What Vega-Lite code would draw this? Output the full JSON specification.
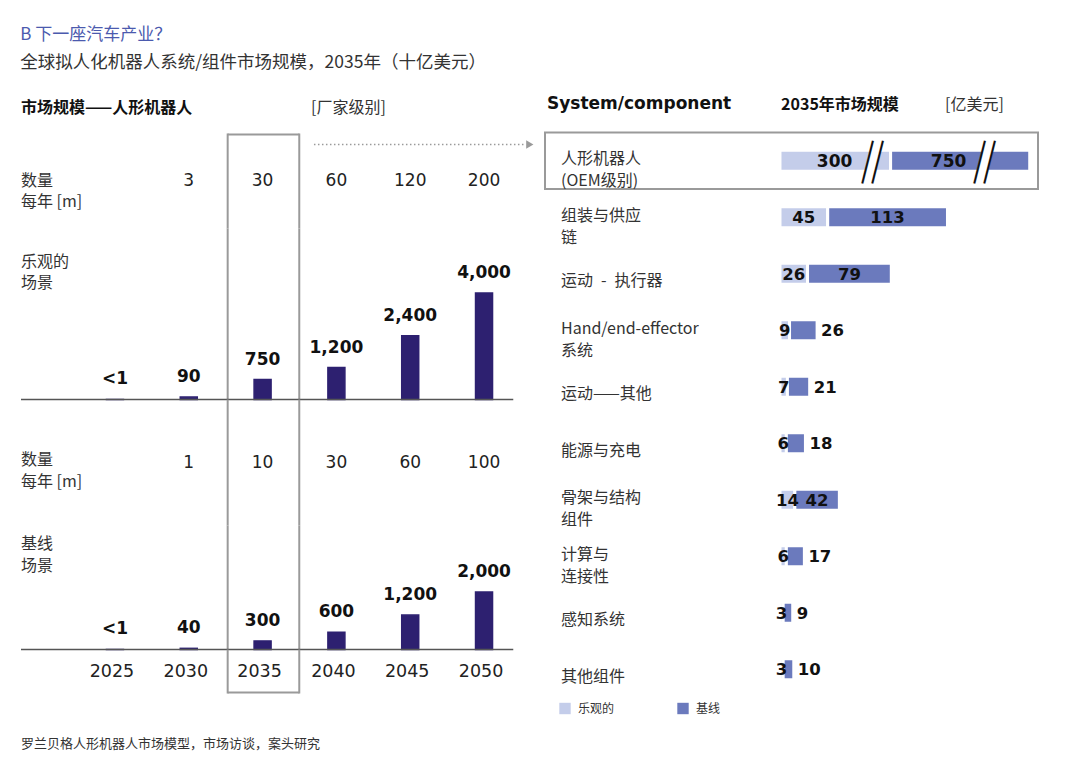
{
  "$schema": "https://vega.github.io/schema/vega-lite/v6.json",
  "background": "white",
  "padding": {"left": 20, "top": 25.5, "right": 20, "bottom": 10},
  "title": {
    "text": "B 下一座汽车产业？",
    "subtitle": "全球拟人化机器人系统/组件市场规模，2035年（十亿美元）",
    "anchor": "start",
    "font": "Noto Sans CJK SC",
    "fontSize": 17,
    "fontWeight": "normal",
    "color": "#4b5aae",
    "subtitleFont": "Noto Sans CJK SC",
    "subtitleFontSize": 17.5,
    "subtitleColor": "#333333",
    "subtitlePadding": 10,
    "offset": 19.5
  },
  "datasets": {
    "market": [
      {"year": 2025, "scenario": "乐观的", "units": null, "market": 0.5},
      {"year": 2030, "scenario": "乐观的", "units": 3, "market": 90},
      {"year": 2035, "scenario": "乐观的", "units": 30, "market": 750},
      {"year": 2040, "scenario": "乐观的", "units": 60, "market": 1200},
      {"year": 2045, "scenario": "乐观的", "units": 120, "market": 2400},
      {"year": 2050, "scenario": "乐观的", "units": 200, "market": 4000},
      {"year": 2025, "scenario": "基线", "units": null, "market": 0.5},
      {"year": 2030, "scenario": "基线", "units": 1, "market": 40},
      {"year": 2035, "scenario": "基线", "units": 10, "market": 300},
      {"year": 2040, "scenario": "基线", "units": 30, "market": 600},
      {"year": 2045, "scenario": "基线", "units": 60, "market": 1200},
      {"year": 2050, "scenario": "基线", "units": 100, "market": 2000}
    ],
    "components": [
      {"component": "人形机器人\n(OEM级别)", "rank": 1, "scenario": "乐观的", "value": 300},
      {"component": "人形机器人\n(OEM级别)", "rank": 1, "scenario": "基线", "value": 750},
      {"component": "组装与供应\n链", "rank": 2, "scenario": "乐观的", "value": 45},
      {"component": "组装与供应\n链", "rank": 2, "scenario": "基线", "value": 113},
      {"component": "运动\u2002-\u2002执行器", "rank": 3, "scenario": "乐观的", "value": 26},
      {"component": "运动\u2002-\u2002执行器", "rank": 3, "scenario": "基线", "value": 79},
      {"component": "Hand/end-effector\n系统", "rank": 4, "scenario": "乐观的", "value": 9},
      {"component": "Hand/end-effector\n系统", "rank": 4, "scenario": "基线", "value": 26},
      {"component": "运动——其他", "rank": 5, "scenario": "乐观的", "value": 7},
      {"component": "运动——其他", "rank": 5, "scenario": "基线", "value": 21},
      {"component": "能源与充电", "rank": 6, "scenario": "乐观的", "value": 6},
      {"component": "能源与充电", "rank": 6, "scenario": "基线", "value": 18},
      {"component": "骨架与结构\n组件", "rank": 7, "scenario": "乐观的", "value": 14},
      {"component": "骨架与结构\n组件", "rank": 7, "scenario": "基线", "value": 42},
      {"component": "计算与\n连接性", "rank": 8, "scenario": "乐观的", "value": 6},
      {"component": "计算与\n连接性", "rank": 8, "scenario": "基线", "value": 17},
      {"component": "感知系统", "rank": 9, "scenario": "乐观的", "value": 3},
      {"component": "感知系统", "rank": 9, "scenario": "基线", "value": 9},
      {"component": "其他组件", "rank": 10, "scenario": "乐观的", "value": 3},
      {"component": "其他组件", "rank": 10, "scenario": "基线", "value": 10}
    ]
  },
  "spacing": 19.5,
  "resolve": {"scale": {"x": "independent", "y": "independent", "color": "independent"}, "legend": {"color": "independent"}},
  "vconcat": [
    {
      "spacing": 8,
      "resolve": {"scale": {"x": "independent", "y": "independent", "color": "independent"}, "legend": {"color": "independent"}},
      "hconcat": [
        {
          "spacing": 17,
          "resolve": {"scale": {"x": "independent", "y": "independent"}},
          "vconcat": [
            {
              "width": 515,
              "height": 24,
              "data": {"values": [{}]},
              "layer": [
                {
                  "mark": {"type": "text", "align": "left", "baseline": "middle", "fontSize": 16, "fontWeight": "bold", "color": "#111111", "dy": 4},
                  "encoding": {
                    "x": {"datum": 2018.636, "type": "quantitative", "scale": {"domain": [2018.636, 2053.52], "nice": false, "zero": false, "padding": 0}, "axis": null},
                    "text": {"value": "市场规模——人形机器人"}
                  }
                },
                {
                  "mark": {"type": "text", "align": "left", "baseline": "middle", "fontSize": 16, "color": "#333333", "dy": 4},
                  "encoding": {
                    "x": {"datum": 2038.28, "type": "quantitative", "scale": {"domain": [2018.636, 2053.52], "nice": false, "zero": false, "padding": 0}, "axis": null},
                    "text": {"value": "[厂家级别]"}
                  }
                }
              ]
            },
            {
              "bounds": "flush",
              "spacing": 0,
              "resolve": {"scale": {"x": "independent", "y": "independent"}},
              "vconcat": [
                {
                  "width": 515,
                  "height": 95,
                  "data": {"name": "market"},
                  "transform": [{"filter": "datum.scenario === '乐观的'"}],
                  "layer": [
                    {
                      "transform": [{"filter": "datum.year === 2035"}],
                      "mark": {"type": "rule", "color": "#9a9a9a", "strokeWidth": 2},
                      "encoding": {"x": {"datum": 2032.635, "type": "quantitative", "scale": {"domain": [2018.636, 2053.52], "nice": false, "zero": false, "padding": 0}, "axis": null}}
                    },
                    {
                      "transform": [{"filter": "datum.year === 2035"}],
                      "mark": {"type": "rule", "color": "#9a9a9a", "strokeWidth": 2},
                      "encoding": {"x": {"datum": 2037.485, "type": "quantitative", "scale": {"domain": [2018.636, 2053.52], "nice": false, "zero": false, "padding": 0}, "axis": null}}
                    },
                    {
                      "transform": [{"filter": "datum.year === 2035"}],
                      "mark": {"type": "rule", "color": "#9a9a9a", "strokeWidth": 2},
                      "encoding": {
                        "x": {"datum": 2032.635, "type": "quantitative", "scale": {"domain": [2018.636, 2053.52], "nice": false, "zero": false, "padding": 0}, "axis": null},
                        "x2": {"datum": 2037.485},
                        "y": {"value": 1}
                      }
                    },
                    {
                      "transform": [{"filter": "datum.year === 2035"}],
                      "mark": {"type": "rule", "color": "#9a9a9a", "strokeWidth": 1.5, "strokeDash": [1.5, 2.5]},
                      "encoding": {
                        "x": {"datum": 2038.48, "type": "quantitative", "scale": {"domain": [2018.636, 2053.52], "nice": false, "zero": false, "padding": 0}, "axis": null},
                        "x2": {"datum": 2052.77},
                        "y": {"value": 11}
                      }
                    },
                    {
                      "transform": [{"filter": "datum.year === 2035"}],
                      "mark": {"type": "point", "shape": "triangle-right", "filled": true, "color": "#9a9a9a", "size": 70, "opacity": 1},
                      "encoding": {
                        "x": {"datum": 2053.1, "type": "quantitative", "scale": {"domain": [2018.636, 2053.52], "nice": false, "zero": false, "padding": 0}, "axis": null},
                        "y": {"value": 11}
                      }
                    },
                    {
                      "transform": [{"filter": "isValid(datum.units)"}],
                      "mark": {"type": "text", "font": "DejaVu Sans", "fontSize": 17, "color": "#222222", "baseline": "middle"},
                      "encoding": {
                        "x": {"field": "year", "type": "quantitative", "scale": {"domain": [2018.636, 2053.52], "nice": false, "zero": false, "padding": 0}, "axis": null},
                        "text": {"field": "units", "type": "quantitative"}
                      }
                    },
                    {
                      "transform": [{"filter": "datum.year === 2035"}],
                      "mark": {"type": "text", "align": "left", "baseline": "middle", "fontSize": 16, "lineHeight": 21, "color": "#333333", "dy": -0.4, "lineBreak": "\n"},
                      "encoding": {
                        "x": {"datum": 2018.636, "type": "quantitative", "scale": {"domain": [2018.636, 2053.52], "nice": false, "zero": false, "padding": 0}, "axis": null},
                        "text": {"value": "数量\n每年 [m]"}
                      }
                    }
                  ]
                },
                {
                  "width": 515,
                  "height": 171,
                  "data": {"name": "market"},
                  "transform": [{"filter": "datum.scenario === '乐观的'"}],
                  "layer": [
                    {
                      "transform": [{"filter": "datum.year === 2035"}],
                      "mark": {"type": "rule", "color": "#9a9a9a", "strokeWidth": 2},
                      "encoding": {"x": {"datum": 2032.635, "type": "quantitative", "scale": {"domain": [2018.636, 2053.52], "nice": false, "zero": false, "padding": 0}, "axis": null}}
                    },
                    {
                      "transform": [{"filter": "datum.year === 2035"}],
                      "mark": {"type": "rule", "color": "#9a9a9a", "strokeWidth": 2},
                      "encoding": {"x": {"datum": 2037.485, "type": "quantitative", "scale": {"domain": [2018.636, 2053.52], "nice": false, "zero": false, "padding": 0}, "axis": null}}
                    },
                    {
                      "mark": {"type": "bar", "color": "#2d2070", "stroke": "#2d2070", "strokeWidth": 1.5, "size": 17},
                      "encoding": {
                        "x": {"field": "year", "type": "quantitative", "scale": {"domain": [2018.636, 2053.52], "nice": false, "zero": false, "padding": 0}, "axis": null},
                        "y": {"field": "market", "type": "quantitative", "scale": {"domain": [0, 6429], "nice": false}, "axis": null}
                      }
                    },
                    {
                      "transform": [{"filter": "datum.year === 2035"}],
                      "mark": {"type": "rule", "color": "#555555", "strokeWidth": 1.5},
                      "encoding": {
                        "x": {"datum": 2018.636, "type": "quantitative", "scale": {"domain": [2018.636, 2053.52], "nice": false, "zero": false, "padding": 0}, "axis": null},
                        "x2": {"datum": 2051.98},
                        "y": {"datum": 0, "type": "quantitative", "scale": {"domain": [0, 6429], "nice": false}, "axis": null}
                      }
                    },
                    {
                      "mark": {"type": "text", "font": "DejaVu Sans", "fontWeight": "bold", "fontSize": 17, "color": "#111111", "baseline": "middle", "dy": -20},
                      "encoding": {
                        "x": {"field": "year", "type": "quantitative", "scale": {"domain": [2018.636, 2053.52], "nice": false, "zero": false, "padding": 0}, "axis": null},
                        "y": {"field": "market", "type": "quantitative", "scale": {"domain": [0, 6429], "nice": false}, "axis": null},
                        "text": {"condition": {"test": "datum.market < 1", "value": "<1"}, "field": "market", "type": "quantitative", "format": ","}
                      }
                    },
                    {
                      "transform": [{"filter": "datum.year === 2035"}],
                      "mark": {"type": "text", "align": "left", "baseline": "middle", "fontSize": 16, "lineHeight": 21, "color": "#333333", "lineBreak": "\n"},
                      "encoding": {
                        "x": {"datum": 2018.636, "type": "quantitative", "scale": {"domain": [2018.636, 2053.52], "nice": false, "zero": false, "padding": 0}, "axis": null},
                        "y": {"datum": 5158, "type": "quantitative", "scale": {"domain": [0, 6429], "nice": false}, "axis": null},
                        "text": {"value": "乐观的\n场景"}
                      }
                    }
                  ]
                },
                {
                  "width": 515,
                  "height": 126,
                  "data": {"name": "market"},
                  "transform": [{"filter": "datum.scenario === '基线'"}],
                  "layer": [
                    {
                      "transform": [{"filter": "datum.year === 2035"}],
                      "mark": {"type": "rule", "color": "#9a9a9a", "strokeWidth": 2},
                      "encoding": {"x": {"datum": 2032.635, "type": "quantitative", "scale": {"domain": [2018.636, 2053.52], "nice": false, "zero": false, "padding": 0}, "axis": null}}
                    },
                    {
                      "transform": [{"filter": "datum.year === 2035"}],
                      "mark": {"type": "rule", "color": "#9a9a9a", "strokeWidth": 2},
                      "encoding": {"x": {"datum": 2037.485, "type": "quantitative", "scale": {"domain": [2018.636, 2053.52], "nice": false, "zero": false, "padding": 0}, "axis": null}}
                    },
                    {
                      "transform": [{"filter": "isValid(datum.units)"}],
                      "mark": {"type": "text", "font": "DejaVu Sans", "fontSize": 17, "color": "#222222", "baseline": "middle"},
                      "encoding": {
                        "x": {"field": "year", "type": "quantitative", "scale": {"domain": [2018.636, 2053.52], "nice": false, "zero": false, "padding": 0}, "axis": null},
                        "text": {"field": "units", "type": "quantitative"}
                      }
                    },
                    {
                      "transform": [{"filter": "datum.year === 2035"}],
                      "mark": {"type": "text", "align": "left", "baseline": "middle", "fontSize": 16, "lineHeight": 22, "color": "#333333", "dy": -2.4, "lineBreak": "\n"},
                      "encoding": {
                        "x": {"datum": 2018.636, "type": "quantitative", "scale": {"domain": [2018.636, 2053.52], "nice": false, "zero": false, "padding": 0}, "axis": null},
                        "text": {"value": "数量\n每年 [m]"}
                      }
                    }
                  ]
                },
                {
                  "width": 515,
                  "height": 124,
                  "data": {"name": "market"},
                  "transform": [{"filter": "datum.scenario === '基线'"}],
                  "layer": [
                    {
                      "transform": [{"filter": "datum.year === 2035"}],
                      "mark": {"type": "rule", "color": "#9a9a9a", "strokeWidth": 2},
                      "encoding": {"x": {"datum": 2032.635, "type": "quantitative", "scale": {"domain": [2018.636, 2053.52], "nice": false, "zero": false, "padding": 0}, "axis": null}}
                    },
                    {
                      "transform": [{"filter": "datum.year === 2035"}],
                      "mark": {"type": "rule", "color": "#9a9a9a", "strokeWidth": 2},
                      "encoding": {"x": {"datum": 2037.485, "type": "quantitative", "scale": {"domain": [2018.636, 2053.52], "nice": false, "zero": false, "padding": 0}, "axis": null}}
                    },
                    {
                      "mark": {"type": "bar", "color": "#2d2070", "stroke": "#2d2070", "strokeWidth": 1.5, "size": 17},
                      "encoding": {
                        "x": {"field": "year", "type": "quantitative", "scale": {"domain": [2018.636, 2053.52], "nice": false, "zero": false, "padding": 0}, "axis": null},
                        "y": {"field": "market", "type": "quantitative", "scale": {"domain": [0, 4321], "nice": false}, "axis": null}
                      }
                    },
                    {
                      "transform": [{"filter": "datum.year === 2035"}],
                      "mark": {"type": "rule", "color": "#555555", "strokeWidth": 1.5},
                      "encoding": {
                        "x": {"datum": 2018.636, "type": "quantitative", "scale": {"domain": [2018.636, 2053.52], "nice": false, "zero": false, "padding": 0}, "axis": null},
                        "x2": {"datum": 2051.98},
                        "y": {"datum": 0, "type": "quantitative", "scale": {"domain": [0, 4321], "nice": false}, "axis": null}
                      }
                    },
                    {
                      "mark": {"type": "text", "font": "DejaVu Sans", "fontWeight": "bold", "fontSize": 17, "color": "#111111", "baseline": "middle", "dy": -20},
                      "encoding": {
                        "x": {"field": "year", "type": "quantitative", "scale": {"domain": [2018.636, 2053.52], "nice": false, "zero": false, "padding": 0}, "axis": null},
                        "y": {"field": "market", "type": "quantitative", "scale": {"domain": [0, 4321], "nice": false}, "axis": null},
                        "text": {"condition": {"test": "datum.market < 1", "value": "<1"}, "field": "market", "type": "quantitative", "format": ","}
                      }
                    },
                    {
                      "transform": [{"filter": "datum.year === 2035"}],
                      "mark": {"type": "text", "align": "left", "baseline": "middle", "fontSize": 16, "lineHeight": 22, "color": "#333333", "lineBreak": "\n"},
                      "encoding": {
                        "x": {"datum": 2018.636, "type": "quantitative", "scale": {"domain": [2018.636, 2053.52], "nice": false, "zero": false, "padding": 0}, "axis": null},
                        "y": {"datum": 3687, "type": "quantitative", "scale": {"domain": [0, 4321], "nice": false}, "axis": null},
                        "text": {"value": "基线\n场景"}
                      }
                    }
                  ]
                },
                {
                  "width": 515,
                  "height": 44,
                  "data": {"name": "market"},
                  "transform": [{"filter": "datum.scenario === '基线'"}],
                  "layer": [
                    {
                      "transform": [{"filter": "datum.year === 2035"}],
                      "mark": {"type": "rule", "color": "#9a9a9a", "strokeWidth": 2},
                      "encoding": {"x": {"datum": 2032.635, "type": "quantitative", "scale": {"domain": [2018.636, 2053.52], "nice": false, "zero": false, "padding": 0}, "axis": null}}
                    },
                    {
                      "transform": [{"filter": "datum.year === 2035"}],
                      "mark": {"type": "rule", "color": "#9a9a9a", "strokeWidth": 2},
                      "encoding": {"x": {"datum": 2037.485, "type": "quantitative", "scale": {"domain": [2018.636, 2053.52], "nice": false, "zero": false, "padding": 0}, "axis": null}}
                    },
                    {
                      "transform": [{"filter": "datum.year === 2035"}],
                      "mark": {"type": "rule", "color": "#9a9a9a", "strokeWidth": 2},
                      "encoding": {
                        "x": {"datum": 2032.635, "type": "quantitative", "scale": {"domain": [2018.636, 2053.52], "nice": false, "zero": false, "padding": 0}, "axis": null},
                        "x2": {"datum": 2037.485},
                        "y": {"value": 43}
                      }
                    },
                    {
                      "mark": {"type": "text", "font": "DejaVu Sans", "fontSize": 17.5, "color": "#222222", "baseline": "middle", "dx": -3},
                      "encoding": {
                        "x": {"field": "year", "type": "quantitative", "scale": {"domain": [2018.636, 2053.52], "nice": false, "zero": false, "padding": 0}, "axis": null},
                        "text": {"field": "year", "type": "quantitative", "format": "d"}
                      }
                    }
                  ]
                }
              ]
            }
          ]
        },
        {
          "bounds": "flush",
          "spacing": 17,
          "resolve": {"scale": {"x": "independent", "y": "independent", "color": "independent"}, "legend": {"color": "independent"}},
          "vconcat": [
            {
              "width": 493,
              "height": 24,
              "data": {"values": [{}]},
              "layer": [
                {
                  "mark": {"type": "text", "align": "left", "baseline": "middle", "font": "DejaVu Sans", "fontSize": 17, "fontWeight": "bold", "color": "#111111"},
                  "encoding": {
                    "x": {"datum": -219.8, "type": "quantitative", "scale": {"domain": [-221.7, 243.4], "nice": false, "zero": false, "padding": 0}, "axis": null},
                    "text": {"value": "System/component"}
                  }
                },
                {
                  "mark": {"type": "text", "align": "left", "baseline": "middle", "fontSize": 16, "fontWeight": "bold", "color": "#111111", "dy": 1.5},
                  "encoding": {
                    "x": {"datum": 1, "type": "quantitative", "scale": {"domain": [-221.7, 243.4], "nice": false, "zero": false, "padding": 0}, "axis": null},
                    "text": {"value": "2035年市场规模"}
                  }
                },
                {
                  "mark": {"type": "text", "align": "left", "baseline": "middle", "fontSize": 16, "color": "#333333", "dy": 1.5},
                  "encoding": {
                    "x": {"datum": 155.7, "type": "quantitative", "scale": {"domain": [-221.7, 243.4], "nice": false, "zero": false, "padding": 0}, "axis": null},
                    "text": {"value": "[亿美元]"}
                  }
                }
              ]
            },
            {
              "width": 493,
              "height": 565,
              "data": {"name": "components"},
              "transform": [
                {"stack": "value", "groupby": ["component"], "sort": [{"field": "scenario", "order": "ascending"}], "as": ["x0", "x1"]},
                {"calculate": "(datum.x0 + datum.x1) / 2", "as": "mid"}
              ],
              "encoding": {
                "y": {
                  "field": "component",
                  "type": "nominal",
                  "scale": {
                    "domain": ["人形机器人\n(OEM级别)", "组装与供应\n链", "运动\u2002-\u2002执行器", "Hand/end-effector\n系统", "运动——其他", "能源与充电", "骨架与结构\n组件", "计算与\n连接性", "感知系统", "其他组件"],
                    "paddingInner": 0,
                    "paddingOuter": 0
                  },
                  "axis": null
                }
              },
              "resolve": {"scale": {"x": "independent"}},
              "layer": [
                {
                  "layer": [
                    {
                      "transform": [{"filter": "datum.rank === 1 && datum.scenario === '乐观的'"}],
                      "mark": {"type": "rect", "filled": false, "color": "#9a9a9a", "strokeWidth": 2},
                      "encoding": {}
                    },
                    {
                      "transform": [{"filter": "datum.scenario === '乐观的' && indexof(datum.component, '\\n') < 0"}],
                      "mark": {"type": "text", "align": "left", "baseline": "middle", "fontSize": 16, "color": "#333333", "dy": 7.5},
                      "encoding": {
                        "x": {"datum": -206.6, "type": "quantitative", "scale": {"domain": [-221.7, 243.4], "nice": false, "zero": false, "padding": 0}, "axis": null},
                        "text": {"field": "component", "type": "nominal"}
                      }
                    },
                    {
                      "transform": [{"filter": "datum.scenario === '乐观的' && indexof(datum.component, '\\n') >= 0"}],
                      "mark": {"type": "text", "align": "left", "baseline": "middle", "fontSize": 16, "lineHeight": 22, "color": "#333333", "dy": -1.3, "lineBreak": "\n"},
                      "encoding": {
                        "x": {"datum": -206.6, "type": "quantitative", "scale": {"domain": [-221.7, 243.4], "nice": false, "zero": false, "padding": 0}, "axis": null},
                        "text": {"field": "component", "type": "nominal"}
                      }
                    },
                    {
                      "transform": [{"filter": "datum.rank > 1"}],
                      "mark": {"type": "bar", "height": 21, "stroke": "white", "strokeWidth": 3},
                      "encoding": {
                        "x": {"field": "x0", "type": "quantitative", "scale": {"domain": [-221.7, 243.4], "nice": false, "zero": false, "padding": 0}, "axis": null},
                        "x2": {"field": "x1"},
                        "color": {
                          "field": "scenario",
                          "type": "nominal",
                          "scale": {"domain": ["乐观的", "基线"], "range": ["#c4cdea", "#6b7abd"]},
                          "legend": {
                            "orient": "none",
                            "legendX": 14,
                            "legendY": 570,
                            "direction": "horizontal",
                            "title": null,
                            "symbolType": "square",
                            "symbolSize": 130,
                            "symbolStrokeWidth": 0,
                            "symbolOpacity": 1,
                            "labelFont": "Noto Sans CJK SC",
                            "labelFontSize": 12,
                            "labelColor": "#333333",
                            "labelOffset": 7,
                            "columnPadding": 62
                          }
                        }
                      }
                    },
                    {
                      "transform": [{"filter": "datum.rank > 1 && (datum.scenario === '乐观的' || datum.value >= 30)"}],
                      "mark": {"type": "text", "font": "DejaVu Sans", "fontWeight": "bold", "fontSize": 16.5, "color": "#111111", "baseline": "middle", "dy": 1},
                      "encoding": {
                        "x": {"field": "mid", "type": "quantitative", "scale": {"domain": [-221.7, 243.4], "nice": false, "zero": false, "padding": 0}, "axis": null},
                        "text": {"field": "value", "type": "quantitative"}
                      }
                    },
                    {
                      "transform": [{"filter": "datum.rank > 1 && datum.scenario === '基线' && datum.value < 30"}],
                      "mark": {"type": "text", "font": "DejaVu Sans", "fontWeight": "bold", "fontSize": 16.5, "color": "#111111", "baseline": "middle", "align": "left", "dx": 4, "dy": 1},
                      "encoding": {
                        "x": {"field": "x1", "type": "quantitative", "scale": {"domain": [-221.7, 243.4], "nice": false, "zero": false, "padding": 0}, "axis": null},
                        "text": {"field": "value", "type": "quantitative"}
                      }
                    }
                  ]
                },
                {
                  "transform": [{"filter": "datum.rank === 1"}],
                  "layer": [
                    {
                      "mark": {"type": "bar", "height": 21, "stroke": "white", "strokeWidth": 3},
                      "encoding": {
                        "x": {"field": "x0", "type": "quantitative", "scale": {"type": "pow", "exponent": 0.65, "domain": [-956, 1104], "nice": false, "zero": false, "padding": 0}, "axis": null},
                        "x2": {"field": "x1"},
                        "color": {"field": "scenario", "type": "nominal", "scale": {"domain": ["乐观的", "基线"], "range": ["#c4cdea", "#6b7abd"]}}
                      }
                    },
                    {
                      "transform": [{"filter": "datum.scenario === '乐观的'"}],
                      "mark": {"type": "text", "font": "DejaVu Sans", "fontWeight": "bold", "fontSize": 17, "color": "#111111", "baseline": "middle", "dx": -56, "dy": 1},
                      "encoding": {
                        "x": {"field": "x1", "type": "quantitative", "scale": {"type": "pow", "exponent": 0.65, "domain": [-956, 1104], "nice": false, "zero": false, "padding": 0}, "axis": null},
                        "text": {"field": "value", "type": "quantitative"}
                      }
                    },
                    {
                      "transform": [{"filter": "datum.scenario === '基线'"}],
                      "mark": {"type": "text", "font": "DejaVu Sans", "fontWeight": "bold", "fontSize": 17, "color": "#111111", "baseline": "middle", "dx": 58, "dy": 1},
                      "encoding": {
                        "x": {"field": "x0", "type": "quantitative", "scale": {"type": "pow", "exponent": 0.65, "domain": [-956, 1104], "nice": false, "zero": false, "padding": 0}, "axis": null},
                        "text": {"field": "value", "type": "quantitative"}
                      }
                    },
                    {
                      "transform": [{"filter": "datum.scenario === '乐观的'"}],
                      "mark": {"type": "text", "font": "DejaVu Sans", "fontSize": 44, "angle": 14, "align": "center", "baseline": "alphabetic", "color": "white", "stroke": "white", "strokeWidth": 7, "dx": -17.2, "dy": 17.3},
                      "encoding": {
                        "x": {"field": "x1", "type": "quantitative", "scale": {"type": "pow", "exponent": 0.65, "domain": [-956, 1104], "nice": false, "zero": false, "padding": 0}, "axis": null},
                        "text": {"value": "|"}
                      }
                    },
                    {
                      "transform": [{"filter": "datum.scenario === '乐观的'"}],
                      "mark": {"type": "text", "font": "DejaVu Sans", "fontSize": 44, "fontWeight": 200, "angle": 14, "align": "center", "baseline": "alphabetic", "color": "#111111", "dx": -22.1, "dy": 18.5},
                      "encoding": {
                        "x": {"field": "x1", "type": "quantitative", "scale": {"type": "pow", "exponent": 0.65, "domain": [-956, 1104], "nice": false, "zero": false, "padding": 0}, "axis": null},
                        "text": {"value": "|"}
                      }
                    },
                    {
                      "transform": [{"filter": "datum.scenario === '乐观的'"}],
                      "mark": {"type": "text", "font": "DejaVu Sans", "fontSize": 44, "fontWeight": 200, "angle": 14, "align": "center", "baseline": "alphabetic", "color": "#111111", "dx": -12.4, "dy": 16.1},
                      "encoding": {
                        "x": {"field": "x1", "type": "quantitative", "scale": {"type": "pow", "exponent": 0.65, "domain": [-956, 1104], "nice": false, "zero": false, "padding": 0}, "axis": null},
                        "text": {"value": "|"}
                      }
                    },
                    {
                      "transform": [{"filter": "datum.scenario === '基线'"}],
                      "mark": {"type": "text", "font": "DejaVu Sans", "fontSize": 44, "angle": 14, "align": "center", "baseline": "alphabetic", "color": "white", "stroke": "white", "strokeWidth": 7, "dx": -43.5, "dy": 23.8},
                      "encoding": {
                        "x": {"field": "x1", "type": "quantitative", "scale": {"type": "pow", "exponent": 0.65, "domain": [-956, 1104], "nice": false, "zero": false, "padding": 0}, "axis": null},
                        "text": {"value": "|"}
                      }
                    },
                    {
                      "transform": [{"filter": "datum.scenario === '基线'"}],
                      "mark": {"type": "text", "font": "DejaVu Sans", "fontSize": 44, "fontWeight": 200, "angle": 14, "align": "center", "baseline": "alphabetic", "color": "#111111", "dx": -48.4, "dy": 25.1},
                      "encoding": {
                        "x": {"field": "x1", "type": "quantitative", "scale": {"type": "pow", "exponent": 0.65, "domain": [-956, 1104], "nice": false, "zero": false, "padding": 0}, "axis": null},
                        "text": {"value": "|"}
                      }
                    },
                    {
                      "transform": [{"filter": "datum.scenario === '基线'"}],
                      "mark": {"type": "text", "font": "DejaVu Sans", "fontSize": 44, "fontWeight": 200, "angle": 14, "align": "center", "baseline": "alphabetic", "color": "#111111", "dx": -38.7, "dy": 22.6},
                      "encoding": {
                        "x": {"field": "x1", "type": "quantitative", "scale": {"type": "pow", "exponent": 0.65, "domain": [-956, 1104], "nice": false, "zero": false, "padding": 0}, "axis": null},
                        "text": {"value": "|"}
                      }
                    }
                  ]
                }
              ]
            }
          ]
        }
      ]
    },
    {
      "width": 515,
      "height": 20,
      "data": {"values": [{}]},
      "mark": {"type": "text", "align": "left", "baseline": "middle", "fontSize": 13, "color": "#333333"},
      "encoding": {
        "x": {"datum": 0, "type": "quantitative", "scale": {"domain": [0, 1], "nice": false}, "axis": null},
        "text": {"value": "罗兰贝格人形机器人市场模型，市场访谈，案头研究"}
      }
    }
  ],
  "config": {
    "view": {"stroke": null},
    "font": "Noto Sans CJK SC"
  }
}
